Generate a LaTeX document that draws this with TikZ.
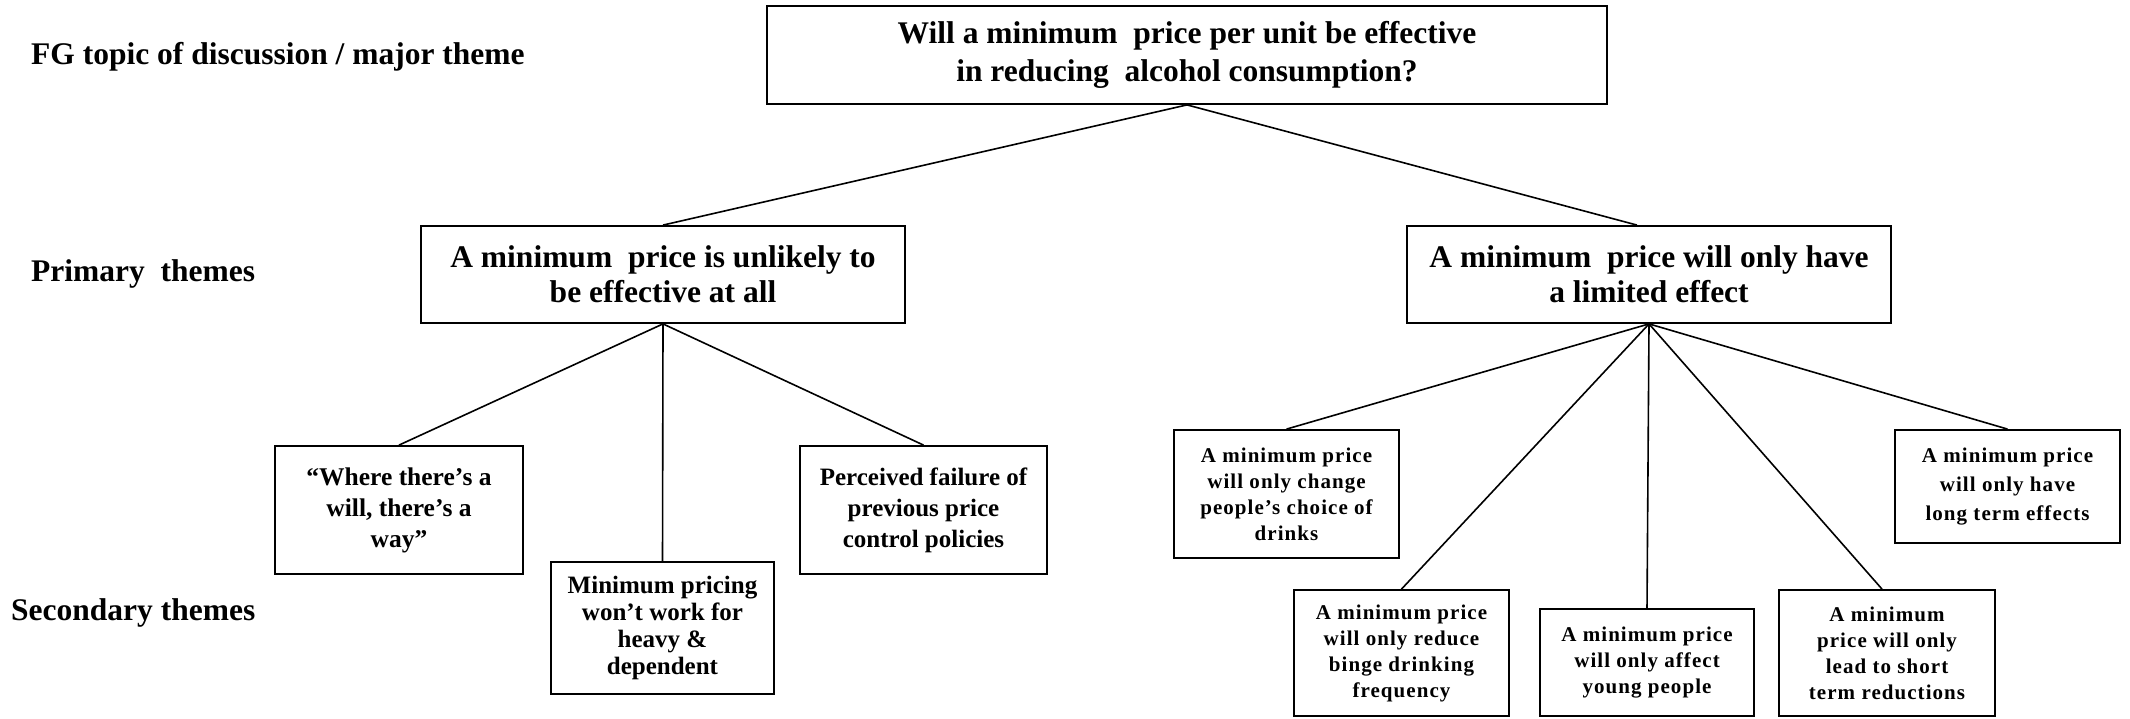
\documentclass[tikz,border=0pt]{standalone}
\usepackage{fontspec}
\setmainfont{Liberation Serif}
\newfontfamily\spacedfont{Liberation Serif}[LetterSpace=5]
\usetikzlibrary{calc}
\tikzset{
  box/.style={draw, line width=1.8pt, inner sep=0pt, align=center, font=\bfseries},
  bigtxt/.style={font=\bfseries\fontsize{31.5}{35}\selectfont},
  midtxt/.style={font=\bfseries\fontsize{25}{30}\selectfont},
  smalltxt/.style={font=\spacedfont\bfseries\fontsize{21}{26}\selectfont},
  sidelabel/.style={anchor=west, inner sep=0pt, font=\bfseries\fontsize{31.5}{36}\selectfont},
  link/.style={line width=1.6pt}
}
\begin{document}
\begin{tikzpicture}[x=1pt, y=-1pt]
\useasboundingbox (0,0) rectangle (2130,719);
% side labels
\node[sidelabel] (l1) at (31,57) {FG topic of discussion / major theme};
\node[sidelabel] (l2) at (31,274) {Primary \ themes};
\node[sidelabel] (l3) at (11,613) {Secondary themes};
% top
\node[box, minimum width=840pt, minimum height=98pt,
      font=\bfseries\fontsize{31.5}{38}\selectfont] (top) at (1187,55)
  {Will a minimum \ price per unit be effective\\in reducing \ alcohol consumption?};
% primary
\node[box, bigtxt, minimum width=484pt, minimum height=97pt] (p1) at (663,274.5)
  {A minimum \ price is unlikely to\\be effective at all};
\node[box, bigtxt, minimum width=484pt, minimum height=97pt] (p2) at (1649,274.5)
  {A minimum \ price will only have\\a limited effect};
% secondary left
\node[box, minimum width=248pt, minimum height=128pt,
      font=\bfseries\fontsize{25.5}{31}\selectfont] (sA) at (399,510)
  {“Where there’s a\\will, there’s a\\way”};
\node[box, minimum width=223pt, minimum height=132pt,
      font=\bfseries\fontsize{25}{27}\selectfont] (sB) at (662.5,628)
  {Minimum pricing\\won’t work for\\heavy \&\\dependent};
\node[box, minimum width=247pt, minimum height=128pt,
      font=\bfseries\fontsize{25}{31}\selectfont] (sC) at (923.5,510)
  {Perceived failure of\\previous price\\control policies};
% secondary right
\node[box, smalltxt, minimum width=225pt, minimum height=128pt] (sD) at (1286.5,494)
  {A minimum price\\will only change\\people’s choice of\\drinks};
\node[box, smalltxt, minimum width=215pt, minimum height=126pt] (sE) at (1401.5,653)
  {A minimum price\\will only reduce\\binge drinking\\frequency};
\node[box, smalltxt, minimum width=214pt, minimum height=107pt] (sF) at (1647,662.5)
  {A minimum price\\will only affect\\young people};
\node[box, smalltxt, minimum width=216pt, minimum height=126pt] (sG) at (1887,653)
  {A minimum\\price will only\\lead to short\\term reductions};
\node[box, minimum width=225pt, minimum height=113pt,
      font=\spacedfont\bfseries\fontsize{21}{29}\selectfont] (sH) at (2007.5,486.5)
  {A minimum price\\will only have\\long term effects};
% connectors
\draw[link] (top.south) -- (p1.north);
\draw[link] (top.south) -- ($(p2.north)+(-12,0)$);
\draw[link] (p1.south) -- (sA.north);
\draw[link] (p1.south) -- (sB.north);
\draw[link] (p1.south) -- (sC.north);
\draw[link] (p2.south) -- (sD.north);
\draw[link] (p2.south) -- (sE.north);
\draw[link] (p2.south) -- (sF.north);
\draw[link] (p2.south) -- ($(sG.north)+(-5,0)$);
\draw[link] (p2.south) -- (sH.north);
\end{tikzpicture}
\end{document}
